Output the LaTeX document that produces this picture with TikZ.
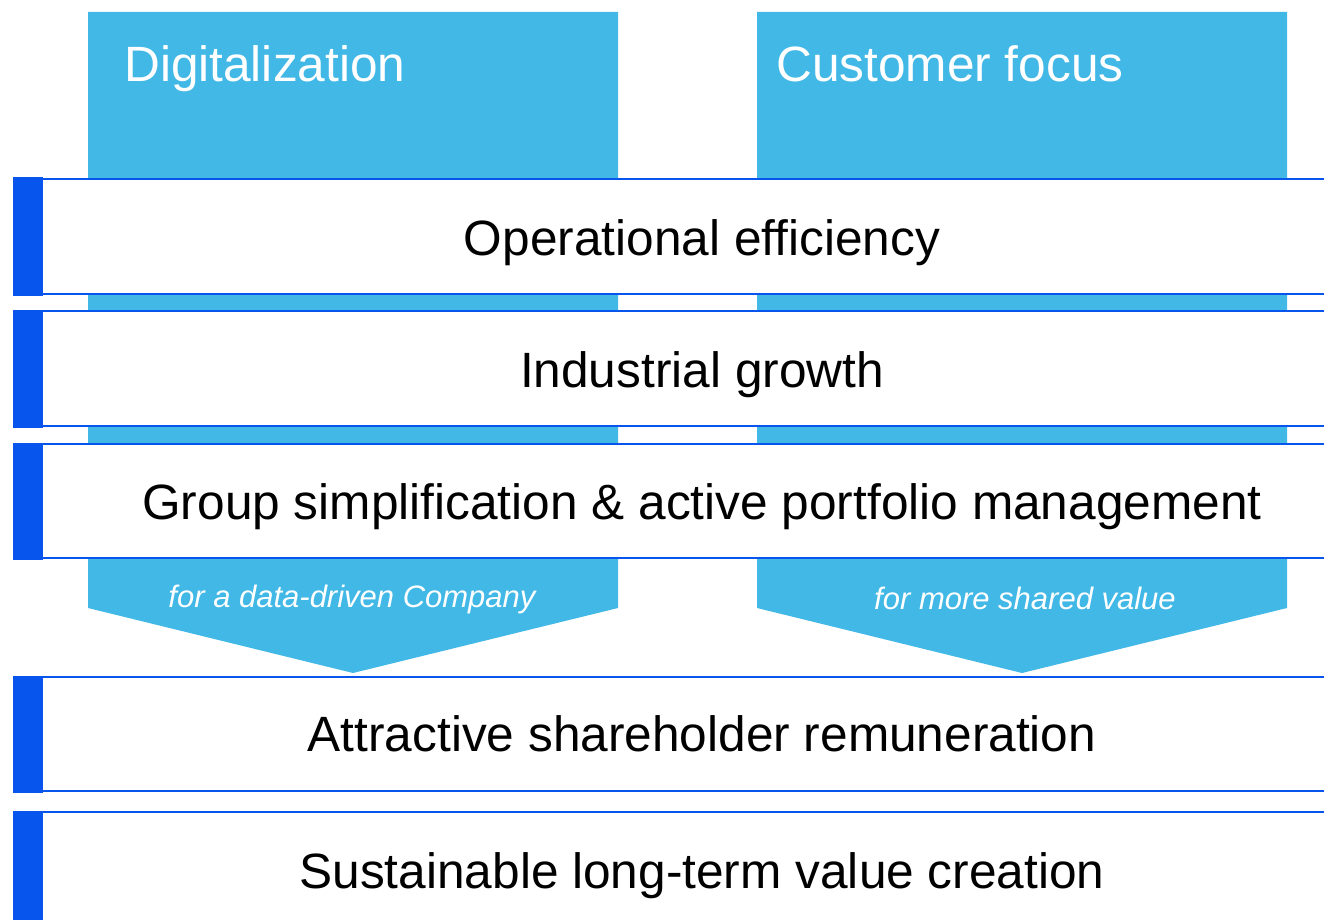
\documentclass[tikz,border=0pt]{standalone}
\usepackage{fontspec}
\setmainfont{Liberation Sans}
\definecolor{lightblue}{RGB}{65,184,230}
\definecolor{deepblue}{RGB}{8,85,238}
\begin{document}
\begin{tikzpicture}[x=1pt,y=-1pt,
  column/.style={fill=lightblue},
  bandfill/.style={fill=white},
  bandline/.style={draw=deepblue,line width=2.5pt},
  sidebar/.style={fill=deepblue},
  bandtext/.style={anchor=base,inner sep=0pt,text=black,font=\fontsize{49.6}{58}\selectfont},
  titletext/.style={anchor=base west,inner sep=0pt,text=white,font=\fontsize{49.6}{58}\selectfont},
  labeltext/.style={anchor=base,inner sep=0pt,text=white,font=\fontsize{31}{36}\selectfont\itshape}]
\useasboundingbox (0,0) rectangle (1324,920);
\clip (0,0) rectangle (1324,920);
% columns with arrow tips
\fill[column] (88,12) -- (618,12) -- (618,608) -- (353,673) -- (88,608) -- cycle;
\fill[column] (757,12) -- (1287,12) -- (1287,608) -- (1022,673) -- (757,608) -- cycle;
\node[titletext] (digi) at (124,82) {Digitalization};
\node[titletext] (cust) at (776,82) {Customer focus};
\node[labeltext] (lab1) at (352,607) {for a data-driven Company};
\node[labeltext] (lab2) at (1025,609) {for more shared value};
% bands
\foreach \ya/\yb in {179/294, 311/426, 444/558, 677/791, 812/935}{
  \fill[bandfill] (43,\ya) rectangle (1324,\yb);
  \draw[bandline] (43,\ya) -- (1324,\ya);
  \draw[bandline] (43,\yb) -- (1324,\yb);
  \fill[sidebar] (13,\ya-1.5) rectangle (43,\yb+1.5);
}
\node[bandtext] (b1) at (702,255) {Operational efficiency};
\node[bandtext] (b2) at (702,387) {Industrial growth};
\node[bandtext] (b3) at (702,519) {Group simplification \& active portfolio management};
\node[bandtext] (b4) at (702,751) {Attractive shareholder remuneration};
\node[bandtext] (b5) at (702,888) {Sustainable long-term value creation};
\end{tikzpicture}
\end{document}
